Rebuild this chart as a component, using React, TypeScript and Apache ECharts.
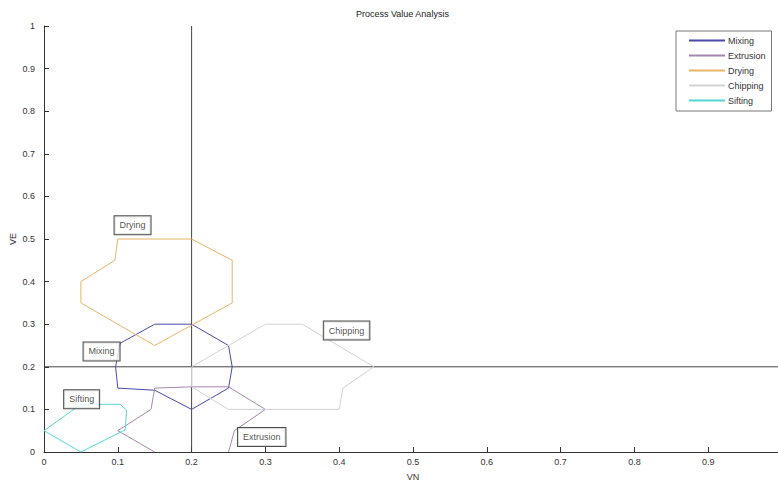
import React, { useEffect, useRef } from "react";
import * as echarts from "echarts";

const seriesNames = ["Mixing", "Extrusion", "Drying", "Chipping", "Sifting"];
const seriesColors = ["#4a4aa8", "#a586b0", "#e8b466", "#d2d2d2", "#55d6d6"];

const mixing = [[0.15, 0.3], [0.2, 0.3], [0.25, 0.25], [0.255, 0.2], [0.25, 0.15], [0.2, 0.1], [0.15, 0.145], [0.1, 0.15], [0.097, 0.2], [0.103, 0.255], [0.15, 0.3]];
const extrusion = [[0.15, 0], [0.1, 0.05], [0.145, 0.1], [0.15, 0.15], [0.2, 0.153], [0.25, 0.153], [0.3, 0.1], [0.258, 0.05], [0.25, 0]];
const drying = [[0.1, 0.5], [0.2, 0.5], [0.255, 0.45], [0.255, 0.35], [0.15, 0.25], [0.05, 0.35], [0.05, 0.4], [0.096, 0.45], [0.1, 0.5]];
const chipping = [[0.2, 0.2], [0.255, 0.255], [0.3, 0.3], [0.35, 0.3], [0.447, 0.2], [0.405, 0.15], [0.4, 0.1], [0.25, 0.1], [0.2, 0.153], [0.2, 0.2]];
const sifting = [[0, 0.05], [0.05, 0.112], [0.103, 0.112], [0.112, 0.098], [0.11, 0.052], [0.05, 0], [0, 0.05]];
const seriesData = [mixing, extrusion, drying, chipping, sifting];

const refX = 0.2;
const refY = 0.2;

const annotations = [
  { text: "Drying", x: 0.12, y: 0.532 },
  { text: "Mixing", x: 0.078, y: 0.236 },
  { text: "Sifting", x: 0.051, y: 0.124 },
  { text: "Extrusion", x: 0.295, y: 0.035 },
  { text: "Chipping", x: 0.41, y: 0.285 },
];

const FONT = "'Liberation Sans', Arial, sans-serif";

export default function App() {
  const ref = useRef<HTMLDivElement>(null);
  useEffect(() => {
    document.body.style.margin = "0";
    const chart = echarts.init(ref.current!, null, { renderer: "svg" });
    const axisCommon = {
      type: "value" as const,
      min: 0,
      max: 1,
      interval: 0.1,
      splitLine: { show: false },
      axisLine: { show: true, onZero: false, lineStyle: { color: "#333", width: 1 } },
      axisTick: { show: true, inside: true, length: 5, lineStyle: { color: "#333" } },
      axisLabel: {
        color: "#333",
        fontSize: 9,
        fontFamily: FONT,
        formatter: (v: number) => String(Math.round(v * 10) / 10),
      },
      nameMoveOverlap: false,
      nameTextStyle: { color: "#333", fontSize: 9, fontFamily: FONT },
    };
    const lineSeries = seriesNames.map((name, i) => ({
      name,
      type: "line" as const,
      data: seriesData[i],
      showSymbol: false,
      symbol: "none",
      lineStyle: { color: seriesColors[i], width: 1 },
      itemStyle: { color: seriesColors[i] },
      z: 3,
    }));
    chart.setOption({
      animation: false,
      backgroundColor: "#fff",
      title: {
        text: "Process Value Analysis",
        left: 356,
        top: 9,
        padding: 0,
        textStyle: { fontSize: 9, fontWeight: "normal", color: "#222", fontFamily: FONT },
      },
      legend: {
        data: seriesNames,
        orient: "vertical",
        left: 676,
        top: 31,
        width: 97,
        padding: [5, 6, 6, 12],
        itemWidth: 36,
        itemHeight: 10,
        itemGap: 6,
        itemStyle: { opacity: 0 },
        backgroundColor: "#fff",
        borderColor: "#777",
        borderWidth: 1,
        textStyle: { fontSize: 9, color: "#333", fontFamily: FONT, padding: [0, 0, 0, -2] },
      },
      grid: { left: 44, top: 26, width: 738, height: 426, containLabel: false, outerBoundsMode: "none" } as any,
      xAxis: {
        ...axisCommon,
        name: "VN",
        nameLocation: "middle",
        nameGap: 20,
        axisLabel: { ...axisCommon.axisLabel, margin: 5, showMaxLabel: false },
      },
      yAxis: {
        ...axisCommon,
        name: "VE",
        nameLocation: "middle",
        nameGap: 27,
        axisLabel: { ...axisCommon.axisLabel, margin: 9 },
      },
      series: [
        ...lineSeries,
        {
          name: "refV",
          type: "line",
          data: [[refX, 0], [refX, 1]],
          showSymbol: false,
          symbol: "none",
          lineStyle: { color: "#444", width: 1 },
          z: 2,
        },
        {
          name: "refH",
          type: "line",
          data: [[0, refY], [1, refY]],
          showSymbol: false,
          symbol: "none",
          lineStyle: { color: "#444", width: 1 },
          z: 2,
        },
        {
          name: "annotations",
          type: "scatter",
          symbolSize: 0,
          z: 5,
          data: annotations.map((a) => ({ value: [a.x, a.y], name: a.text })),
          label: {
            show: true,
            position: "inside",
            formatter: (p: any) => p.name,
            fontSize: 9,
            color: "#222",
            fontFamily: FONT,
            backgroundColor: "#fff",
            borderColor: "#222",
            borderWidth: 1,
            padding: [5, 5, 4, 5],
          },
        },
      ],
    });
    return () => chart.dispose();
  }, []);
  return <div ref={ref} style={{ width: 778, height: 482 }} />;
}
